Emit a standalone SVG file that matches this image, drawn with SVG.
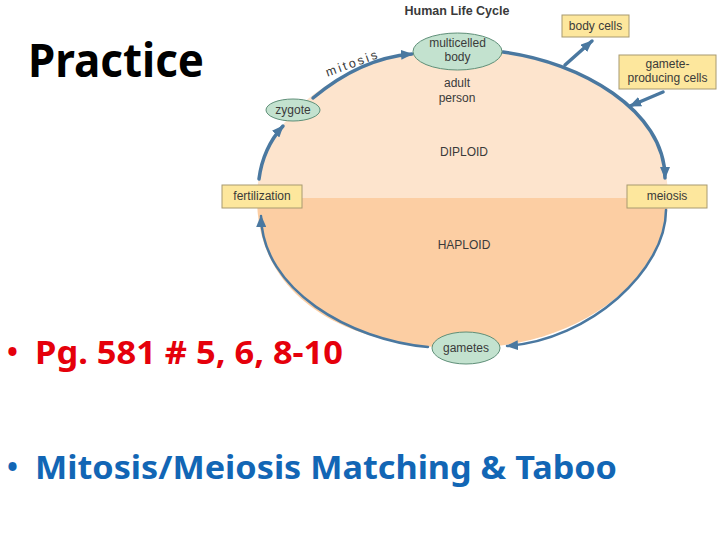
<svg xmlns="http://www.w3.org/2000/svg" width="720" height="540" viewBox="0 0 720 540">
<style>
.lbl{font-family:"Liberation Sans",Arial,sans-serif;font-size:12px;fill:#3a3a3a;text-anchor:middle}
.big{font-family:"Noto Sans","Open Sans",sans-serif;font-weight:bold}
.oval{fill:#c3e2cf;stroke:#5f8f78;stroke-width:1}
.box{fill:#fde79d;stroke:#a89a70;stroke-width:1}
.arc{fill:none;stroke:#4a78a0;stroke-linecap:round}
</style>
<defs>
<marker id="ah" markerUnits="userSpaceOnUse" markerWidth="14" markerHeight="10" refX="11" refY="5" orient="auto">
<path d="M0,0 L12,5 L0,10 Z" fill="#4a78a0"/>
</marker>
</defs>
<rect width="720" height="540" fill="#ffffff"/>
<g id="background">
<path d="M257,198 C257,116.3 345.7,50 455,50 C582.8,50 668,109.2 668,198 Z" fill="#fde4cd"/>
<path d="M668,198 C668,280.5 576.7,348 465,348 C336,348 257,291 257,198 Z" fill="#fccea3"/>
</g>
<g id="connectors">
<path class="arc" stroke-width="3.5" d="M259,179 Q263,148 283,126" marker-end="url(#ah)"/>
<path class="arc" stroke-width="3.5" d="M313,98 Q361,58 412,54" marker-end="url(#ah)"/>
<path class="arc" stroke-width="3.5" d="M503,52 C580,62 665,110 665,178" marker-end="url(#ah)"/>
<path class="arc" stroke-width="3.5" d="M565,65 L592,41" marker-end="url(#ah)"/>
<path class="arc" stroke-width="3.5" d="M663,92 L630,106" marker-end="url(#ah)"/>
<path class="arc" stroke-width="2.5" d="M666,210 C666,270 590,340 507,346" marker-end="url(#ah)"/>
<path class="arc" stroke-width="2.5" d="M428,347 C350,340 262,290 261,216" marker-end="url(#ah)"/>
</g>
<text class="lbl" x="457" y="15" style="font-weight:bold;font-size:12.5px">Human Life Cycle</text>
<text class="lbl" transform="translate(354,67) rotate(-20)" style="letter-spacing:2.5px;font-size:12.5px">mitosis</text>
<text class="lbl" x="457" y="87">adult</text>
<text class="lbl" x="457" y="102">person</text>
<text class="lbl" x="464" y="156">DIPLOID</text>
<text class="lbl" x="464" y="249">HAPLOID</text>
<g id="multicelled">
<ellipse class="oval" cx="457.5" cy="51.5" rx="44.5" ry="18.5"/>
<text class="lbl" x="457.5" y="47">multicelled</text>
<text class="lbl" x="457.5" y="61">body</text>
</g>
<g id="zygote">
<ellipse class="oval" cx="293" cy="110" rx="27" ry="11"/>
<text class="lbl" x="293" y="114">zygote</text>
</g>
<g id="gametes">
<ellipse class="oval" cx="466" cy="348" rx="34" ry="16"/>
<text class="lbl" x="466" y="352">gametes</text>
</g>
<g id="bodycells">
<rect class="box" x="562" y="15" width="67" height="22"/>
<text class="lbl" x="595.5" y="30">body cells</text>
</g>
<g id="gameteproducing">
<rect class="box" x="619" y="55" width="97" height="34"/>
<text class="lbl" x="667.5" y="68">gamete-</text>
<text class="lbl" x="667.5" y="82">producing cells</text>
</g>
<g id="fertilization">
<rect class="box" x="222" y="185" width="80" height="23"/>
<text class="lbl" x="262" y="200">fertilization</text>
</g>
<g id="meiosis">
<rect class="box" x="627" y="185" width="80" height="23"/>
<text class="lbl" x="667" y="200">meiosis</text>
</g>
<text class="big" x="28" y="77" font-size="46" fill="#000000" textLength="176" lengthAdjust="spacingAndGlyphs">Practice</text>
<text class="big" x="7" y="362" font-size="29" fill="#e5000b">•</text>
<text class="big" x="35" y="364" font-size="33" fill="#e5000b" textLength="308" lengthAdjust="spacingAndGlyphs">Pg. 581 # 5, 6, 8-10</text>
<text class="big" x="7" y="477" font-size="29" fill="#1266b5">•</text>
<text class="big" x="35" y="479" font-size="33" fill="#1266b5" textLength="582" lengthAdjust="spacingAndGlyphs">Mitosis/Meiosis Matching &amp; Taboo</text>
</svg>
